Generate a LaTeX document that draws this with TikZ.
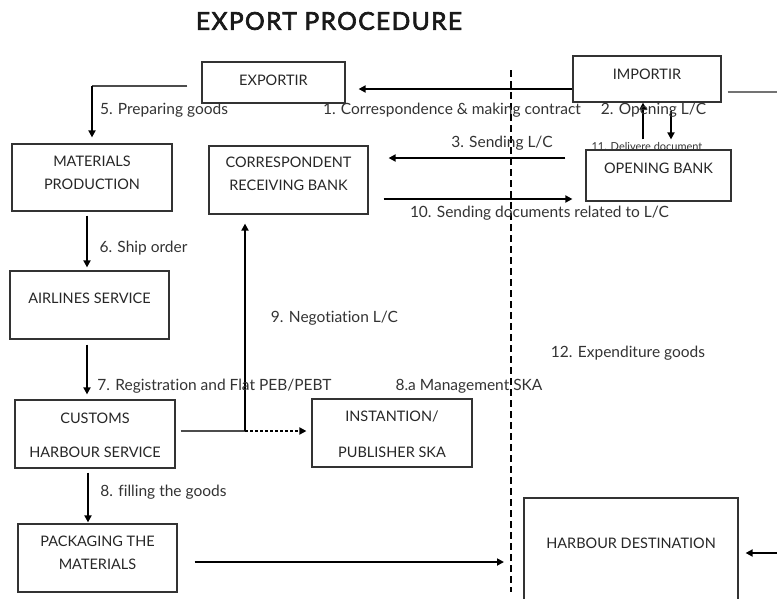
\documentclass[tikz,border=0pt]{standalone}
\usepackage{fontspec}
\setmainfont{Lato}[Ligatures={NoCommon}]
\newfontfamily\titlefont[LetterSpace=5.5, FakeBold=2.6]{Lato}
\usetikzlibrary{arrows.meta}
\tikzset{
  box/.style={draw=black!80, line width=1.2pt, inner sep=0pt},
  txt/.style={inner sep=0pt, text=black!85, font=\fontsize{14.5}{23}\selectfont, align=center},
  lbl/.style={inner sep=0pt, text=black!80, font=\fontsize{15.5}{18}\selectfont},
  arr/.style={line width=1.8pt, -{Triangle[length=7pt,width=7pt]}},
  thin/.style={line width=1.2pt, draw=black!70},
}
\begin{document}
\begin{tikzpicture}[x=1pt,y=-1pt]
\useasboundingbox (0,0) rectangle (777,598);
\clip (0,0) rectangle (777,598);
% title
\node[inner sep=0pt, font=\titlefont\fontsize{24.6}{30}\selectfont, text=black!90] (title) at (329,21) {EXPORT PROCEDURE};
% boxes
\node[box, minimum width=143, minimum height=41] (exp) at (273.5,82.5) {};
\node[box, minimum width=148, minimum height=46] (imp) at (647,79) {};
\node[box, minimum width=145, minimum height=51] (obank) at (658.5,175.5) {};
\node[box, minimum width=160, minimum height=67] (mat) at (92,177.5) {};
\node[box, minimum width=159, minimum height=68] (corr) at (288.5,180) {};
\node[box, minimum width=159, minimum height=68] (air) at (89.5,305) {};
\node[box, minimum width=160, minimum height=68] (cus) at (95,434) {};
\node[box, minimum width=160, minimum height=68] (inst) at (392,433) {};
\node[box, minimum width=159, minimum height=68] (pack) at (97.5,558) {};
\node[box, minimum width=214, minimum height=142] (hdest) at (631,569) {};
% box texts
\node[txt] (expT) at (273.5,80) {EXPORTIR};
\node[txt] (impT) at (647,74) {IMPORTIR};
\node[txt] (obankT) at (658.5,168) {OPENING BANK};
\node[txt] (matT) at (92,172.5) {MATERIALS\\PRODUCTION};
\node[txt] (corrT) at (288.5,173.5) {CORRESPONDENT\\RECEIVING BANK};
\node[txt] (airT) at (89.5,298) {AIRLINES SERVICE};
\node[txt, font=\fontsize{14.5}{34}\selectfont] (cusT) at (95,435) {CUSTOMS\\HARBOUR SERVICE};
\node[txt, font=\fontsize{14.5}{36}\selectfont] (instT) at (392,434) {INSTANTION/\\PUBLISHER SKA};
\node[txt] (packT) at (97.5,552.5) {PACKAGING THE\\MATERIALS};
\node[txt] (hdestT) at (631,543) {HARBOUR DESTINATION};
% free ends
\coordinate (dtop) at (511,70);
\coordinate (dbot) at (511,592);
\coordinate (redge1) at (777,92);
\coordinate (redge2) at (777,553);
\coordinate (j) at (245,431);
% dashed divider
\draw[line width=2.4pt, dash pattern=on 7pt off 4pt] (dtop) -- (dbot);
% connectors
\draw[arr, shorten >=13pt] (imp.west |- 0,89) -- (exp.east |- 0,89);
\draw[arr, shorten <=10pt] (obank.north -| 643,0) -- (imp.south -| 643,0);
\draw[arr, shorten <=8pt, shorten >=10pt] (imp.south -| 671,0) -- (obank.north -| 671,0);
\draw[arr, shorten <=20pt, shorten >=20pt] (obank.west |- 0,158) -- (corr.east |- 0,158);
\draw[arr, shorten <=15pt, shorten >=13pt] (corr.east |- 0,199) -- (obank.west |- 0,199);
\draw[line width=2pt, draw=black!55, shorten <=6pt] (imp.east |- 0,92) -- (redge1);
\draw[thin, shorten <=14pt] (exp.west |- 0,86) -- (mat.north |- 0,86);
\draw[arr, shorten >=6pt] (mat.north |- 0,86) -- (mat.north);
\draw[arr, shorten <=4pt, shorten >=3pt] (mat.south -| 87,0) -- (air.north -| 87,0);
\draw[arr, shorten <=5pt, shorten >=5pt] (air.south -| 87,0) -- (cus.north -| 87,0);
\draw[arr, shorten <=4pt, shorten >=1pt] (cus.south -| 88,0) -- (pack.north -| 88,0);
\draw[thin, shorten <=5pt] (cus.east |- j) -- (j);
\draw[arr, dash pattern=on 3pt off 2pt, shorten >=5pt] (j) -- (inst.west |- j);
\draw[arr, shorten >=9pt] (j) -- (corr.south -| j);
\draw[arr, shorten <=17pt, shorten >=7pt] (pack.east |- 0,562) -- (dtop |- 0,562);
\draw[arr, shorten >=7pt] (redge2) -- (hdest.east |- redge2);
% labels
\node[lbl] (l1) at (452,110) {1. Correspondence \& making contract};
\node[lbl] (l2) at (653.5,110) {2. Opening L/C};
\node[lbl, font=\fontsize{11}{12}\selectfont] (l11) at (647,146) {11. Delivere document};
\node[lbl] (l3) at (502,143) {3. Sending L/C};
\node[lbl] (l10) at (539.5,213) {10. Sending documents related to L/C};
\node[lbl] (l5) at (164,110) {5. Preparing goods};
\node[lbl] (l6) at (143.5,248) {6. Ship order};
\node[lbl] (l9) at (334.5,318) {9. Negotiation L/C};
\node[lbl] (l7) at (214.5,386) {7. Registration and Flat PEB/PEBT};
\node[lbl] (l8a) at (469,386) {8.a Management SKA};
\node[lbl] (l12) at (628,353) {12. Expenditure goods};
\node[lbl] (l8) at (163.5,492) {8. filling the goods};
\end{tikzpicture}
\end{document}
